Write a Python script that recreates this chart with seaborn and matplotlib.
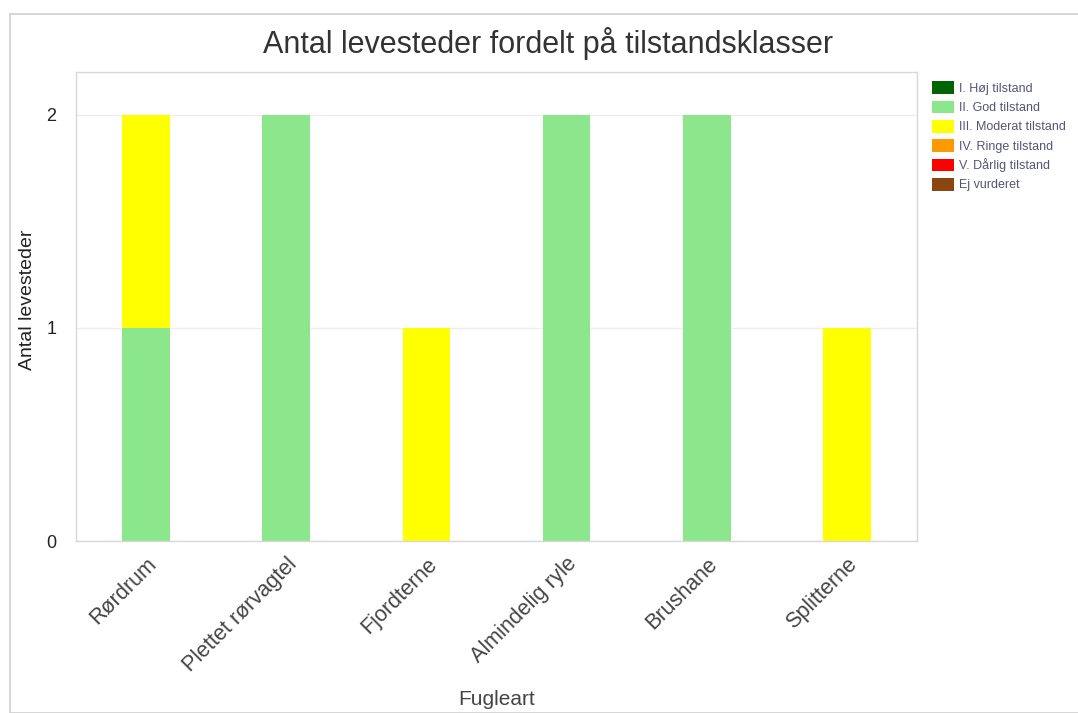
import matplotlib
matplotlib.use("Agg")
import matplotlib.pyplot as plt
from matplotlib.patches import Patch, Rectangle
import seaborn as sns
import pandas as pd

species = ["Rørdrum", "Plettet rørvagtel", "Fjordterne", "Almindelig ryle", "Brushane", "Splitterne"]
classes = ["I. Høj tilstand", "II. God tilstand", "III. Moderat tilstand",
           "IV. Ringe tilstand", "V. Dårlig tilstand", "Ej vurderet"]
colors = ["#006400", "#8CE68C", "#FFFF00", "#FF9900", "#FF0000", "#8B4513"]
hoj = [0, 0, 0, 0, 0, 0]
god = [1, 2, 0, 2, 2, 0]
moderat = [1, 0, 1, 0, 0, 1]
ringe = [0, 0, 0, 0, 0, 0]
daarlig = [0, 0, 0, 0, 0, 0]
ej = [0, 0, 0, 0, 0, 0]
values = [hoj, god, moderat, ringe, daarlig, ej]

rows = []
for sp_i, sp in enumerate(species):
    for cl, vals in zip(classes, values):
        rows.append({"Fugleart": sp, "Klasse": cl, "Antal": vals[sp_i]})
df = pd.DataFrame(rows)

sns.set_theme(style="white")
plt.rcParams['font.family'] = ['Liberation Sans', 'DejaVu Sans']

fig = plt.figure(figsize=(10.78, 7.13), dpi=100)
ax = fig.add_axes([76/1078, 1-541/713, (917-76)/1078, (541-72)/713])

palette = dict(zip(classes, colors))
sns.histplot(data=df, x="Fugleart", weights="Antal", hue="Klasse",
             hue_order=classes[::-1], palette=palette, multiple="stack",
             discrete=True, shrink=0.34, alpha=1, linewidth=0, legend=False, ax=ax)

ax.set_ylim(0, 2.2)
ax.set_xlim(-0.5, len(species) - 0.5)
ax.set_yticks([0, 1, 2])
ax.set_yticklabels(["0", "1", "2"], fontsize=13, color="#222222")
ax.set_xticks(range(len(species)))
ax.set_xticklabels(species, rotation=45, ha="right", rotation_mode="anchor",
                   fontsize=15.5, color="#444444")
ax.tick_params(axis="x", length=3, color="#cccccc", pad=6)
ax.tick_params(axis="y", length=0, pad=14)
ax.yaxis.grid(True, color="#eeeeee", linewidth=1)
ax.set_axisbelow(True)
for s in ax.spines.values():
    s.set_color("#d8d8d8")
    s.set_linewidth(1)
ax.set_xlabel("Fugleart", fontsize=15, color="#444444")
ax.xaxis.set_label_coords(0.5, -(690 - 541) / 469)
ax.set_ylabel("Antal levesteder", fontsize=14, color="#222222")
ax.yaxis.set_label_coords((36 - 76) / 841, (541 - 300) / 469)

fig.text(548/1078, 1-43/713, "Antal levesteder fordelt på tilstandsklasser",
         ha="center", va="center", fontsize=22, color="#333333")

handles = [Patch(facecolor=c, edgecolor="none", label=l) for c, l in zip(colors, classes)]
fig.legend(handles=handles, loc="upper left", bbox_to_anchor=(921/1078, 1-70/713),
           frameon=False, fontsize=9, handlelength=1.75, handleheight=1.2,
           handletextpad=0.4, labelspacing=0.45, labelcolor="#555577")

fig.patches.append(Rectangle((10/1078, 0), 1.2, 1-14/713, transform=fig.transFigure,
                             fill=False, edgecolor="#d0d0d0", linewidth=1.2))

fig.savefig("out.png", dpi=100)
